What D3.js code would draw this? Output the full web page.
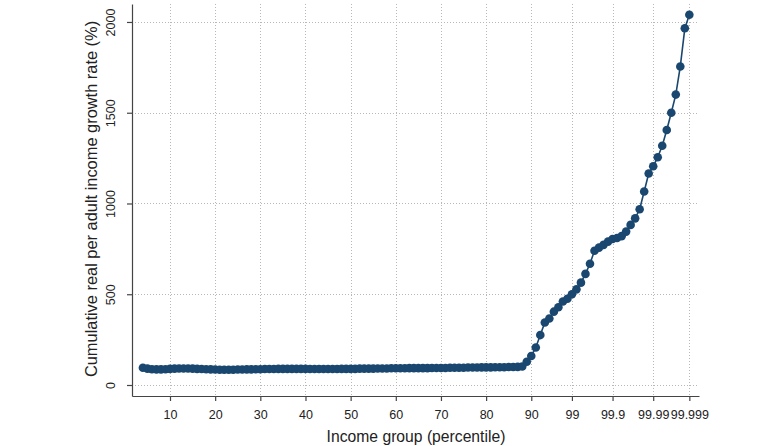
<!DOCTYPE html>
<html>
<head>
<meta charset="utf-8">
<script src="https://cdn.jsdelivr.net/npm/d3@7"></script>
<style>
  html, body { margin: 0; padding: 0; background: #fff; }
  svg { display: block; }
  text { font-family: "Liberation Sans", Arial, Helvetica, sans-serif; fill: #222; }
</style>
</head>
<body>
<svg id="chart" width="772" height="446"></svg>
<script>
// Income group position (index along the axis; 99 -> 99.9 -> 99.99 -> 99.999 compressed)
const groupIndex = [
  4,5,6,7,8,9,10,11,12,13,14,15,16,17,18,19,20,21,22,23,24,25,26,27,28,29,
  30,31,32,33,34,35,36,37,38,39,40,41,42,43,44,45,46,47,48,49,50,51,52,53,54,
  55,56,57,58,59,60,61,62,63,64,65,66,67,68,69,70,71,72,73,74,75,76,77,78,79,
  80,81,82,83,84,85,86,87,88,89,90,91,92,93,94,95,96,97,98,99,100,101,102,103,
  104,105,106,107,108,109,110,111,112,113,114,115,116,117,118,119,120,121,122,
  123,124,125
];
// Cumulative real per adult income growth rate (%)
const growthRate = [
  95,90,87,86,86,87,89,90,91,91,91,90,89,88,87,86,85,84,84,84,84,85,85,86,86,87,
  87,88,88,88,89,89,89,89,89,89,89,88,88,88,88,88,88,88,89,89,89,89,90,90,90,
  90,91,91,91,92,92,92,92,93,93,93,93,93,94,94,94,94,95,95,95,95,96,96,96,97,
  97,97,98,98,98,99,99,100,102,128,160,207,275,344,366,404,428,460,475,500,527,564,612,668,
  740,757,772,790,804,810,820,845,882,918,968,1066,1165,1205,1255,1318,1405,1500,1600,
  1755,1965,2040
];
// X tick labels and their positions on the index axis
const xTickIndex = [10,20,30,40,50,60,70,80,90,99,108,117,125];
const xTickLabels = ["10","20","30","40","50","60","70","80","90","99","99.9","99.99","99.999"];
const yTicks = [0,500,1000,1500,2000];

const navy = "#1a476f";
const svg = d3.select("#chart");

const plotL = 132, plotR = 699, plotT = 4, plotB = 396;
const x = d3.scaleLinear().domain([1.585, 127.14]).range([plotL, plotR]);
const y = d3.scaleLinear().domain([-60.6, 2099]).range([plotB, plotT]);

// Grid lines
const grid = svg.append("g").attr("stroke", "#b8b8b8").attr("stroke-width", 1)
  .attr("stroke-dasharray", "1,2").attr("fill", "none");
grid.selectAll("line.v").data(xTickIndex).join("line").attr("class", "v")
  .attr("x1", d => Math.round(x(d)) + 0.5).attr("x2", d => Math.round(x(d)) + 0.5)
  .attr("y1", plotT).attr("y2", plotB);
grid.selectAll("line.h").data(yTicks).join("line").attr("class", "h")
  .attr("x1", plotL).attr("x2", plotR)
  .attr("y1", d => Math.round(y(d)) + 0.5).attr("y2", d => Math.round(y(d)) + 0.5);

// Axes
const xAxis = d3.axisBottom(x).tickValues(xTickIndex)
  .tickFormat((d, i) => xTickLabels[i]).tickSize(5).tickSizeOuter(0).tickPadding(9);
const gx = svg.append("g").attr("transform", `translate(0,${plotB})`).call(xAxis);
gx.select(".domain").attr("stroke", "#444").attr("stroke-width", 1.2);
gx.selectAll(".tick line").attr("stroke", "#444").attr("stroke-width", 1.2);
gx.selectAll(".tick text").attr("font-size", 12.5).attr("fill", "#222")
  .style("font-family", "'Liberation Sans', Arial, sans-serif");

const yAxis = d3.axisLeft(y).tickValues(yTicks).tickFormat(d3.format("d"))
  .tickSize(5).tickSizeOuter(0).tickPadding(4);
const gy = svg.append("g").attr("transform", `translate(${plotL},0)`).call(yAxis);
gy.select(".domain").attr("stroke", "#444").attr("stroke-width", 1.2);
gy.selectAll(".tick line").attr("stroke", "#444").attr("stroke-width", 1.2);
gy.selectAll(".tick text")
  .attr("font-size", 12.5).attr("fill", "#222")
  .style("font-family", "'Liberation Sans', Arial, sans-serif")
  .attr("text-anchor", "middle").attr("dy", null).attr("x", null)
  .attr("transform", "translate(-17,0) rotate(-90)");

// Data
const pts = groupIndex.map((g, i) => ({ g, v: growthRate[i] }));
svg.append("path").datum(pts)
  .attr("fill", "none").attr("stroke", navy).attr("stroke-width", 1.6)
  .attr("d", d3.line().x(d => x(d.g)).y(d => y(d.v)));
svg.append("g").selectAll("circle").data(pts).join("circle")
  .attr("cx", d => x(d.g)).attr("cy", d => y(d.v)).attr("r", 4.3)
  .attr("fill", navy);

// Titles
svg.append("text").attr("x", 416).attr("y", 442).attr("text-anchor", "middle")
  .attr("font-size", 15.7).text("Income group (percentile)");
svg.append("text").attr("transform", "translate(97,199) rotate(-90)")
  .attr("text-anchor", "middle").attr("font-size", 16.4)
  .text("Cumulative real per adult income growth rate (%)");
</script>
</body>
</html>
